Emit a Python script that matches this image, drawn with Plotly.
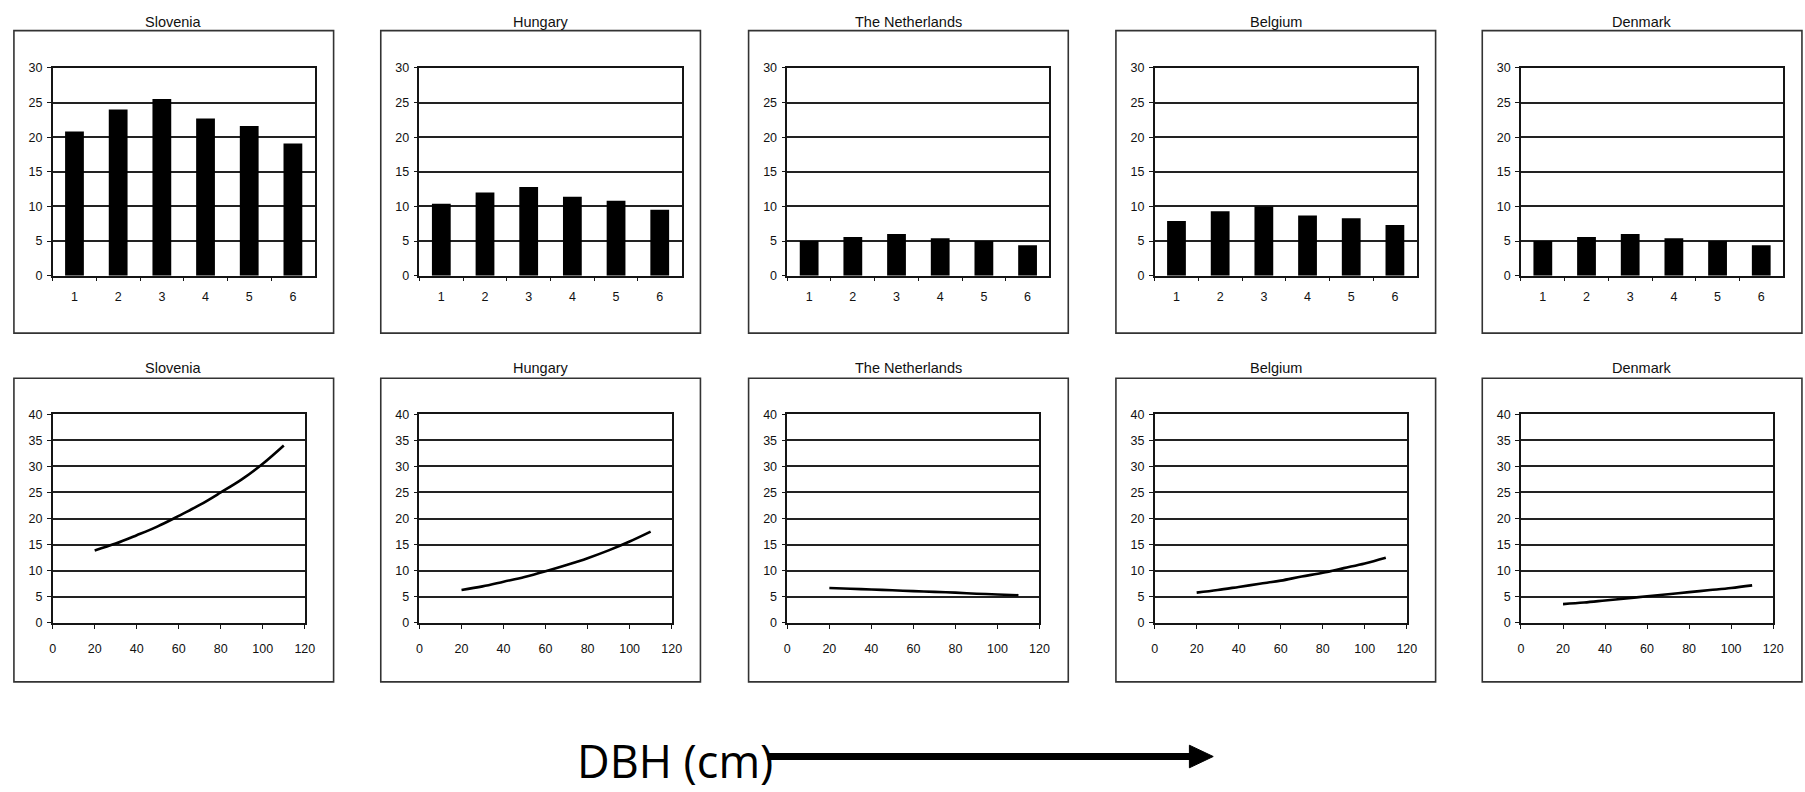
import plotly.graph_objects as go

W, H = 1805, 792

# ---------------- data ----------------
countries = ["Slovenia", "Hungary", "The Netherlands", "Belgium", "Denmark"]
size_classes = ["1", "2", "3", "4", "5", "6"]

bar_slovenia = [20.8, 24.0, 25.5, 22.7, 21.6, 19.1]
bar_hungary = [10.4, 12.0, 12.8, 11.4, 10.8, 9.5]
bar_netherlands = [5.0, 5.6, 6.0, 5.4, 5.0, 4.4]
bar_belgium = [7.9, 9.3, 10.0, 8.7, 8.3, 7.3]
bar_denmark = [5.0, 5.6, 6.0, 5.4, 5.0, 4.4]

dbh_cm = [20, 30, 40, 50, 60, 70, 80, 90, 100, 110]
line_slovenia = [13.9, 15.2, 16.8, 18.5, 20.5, 22.6, 25.0, 27.5, 30.5, 34.0]
line_hungary = [6.3, 7.0, 7.9, 8.8, 9.9, 11.1, 12.4, 13.9, 15.6, 17.5]
line_netherlands = [6.7, 6.55, 6.4, 6.25, 6.1, 5.95, 5.8, 5.6, 5.45, 5.3]
line_belgium = [5.8, 6.3, 6.9, 7.5, 8.1, 8.9, 9.6, 10.5, 11.4, 12.5]
line_denmark = [3.6, 3.9, 4.3, 4.7, 5.1, 5.5, 5.9, 6.3, 6.7, 7.2]

bar_yticks = [0, 5, 10, 15, 20, 25, 30]
line_yticks = [0, 5, 10, 15, 20, 25, 30, 35, 40]
line_xticks = [0, 20, 40, 60, 80, 100, 120]
axis_caption = "DBH (cm)"

bar_series = [bar_slovenia, bar_hungary, bar_netherlands, bar_belgium, bar_denmark]
line_series = [line_slovenia, line_hungary, line_netherlands, line_belgium, line_denmark]

# ---------------- geometry (pixels) ----------------
plot_left = [50, 419.5, 790, 1160, 1529]
frame_offset = 39
frame_w = 322
top_plot_w = 264
bot_plot_w = 254
rows = [
    dict(frame=(24, 332), plot=(62, 273.5), title=15, pw=top_plot_w),
    dict(frame=(378, 687), plot=(414.5, 627), title=367, pw=bot_plot_w),
]

FONT = "Liberation Sans, Arial, sans-serif"
INK = "#151515"


def fx(p):
    return p / W


def fy(p):
    return 1 - p / H


fig = go.Figure()
layout = dict(
    width=W, height=H, margin=dict(l=0, r=0, t=0, b=0),
    paper_bgcolor="white", plot_bgcolor="white",
    showlegend=False, bargap=0.57,
    shapes=[], annotations=[],
)

common = dict(
    showline=True, linecolor=INK, linewidth=1.5, mirror=True,
    ticks="outside", ticklen=4, tickcolor=INK, tickwidth=1.3,
    tickfont=dict(family=FONT, size=12.5, color="#111"),
    zeroline=False, fixedrange=True,
)

k = 0
for r, row in enumerate(rows):
    for i, name in enumerate(countries):
        k += 1
        xa = "xaxis" if k == 1 else f"xaxis{k}"
        ya = "yaxis" if k == 1 else f"yaxis{k}"
        xr = "x" if k == 1 else f"x{k}"
        yr = "y" if k == 1 else f"y{k}"
        left = plot_left[i]
        right = left + row["pw"]
        top, bottom = row["plot"]
        if r == 0:
            fig.add_trace(go.Bar(x=size_classes, y=bar_series[i], marker=dict(color="black", line=dict(width=0)),
                                 xaxis=xr, yaxis=yr, hoverinfo="skip"))
            layout[xa] = dict(common, domain=[fx(left), fx(right)], anchor=yr, type="category",
                              tickson="boundaries", showgrid=False, ticklabelstandoff=9)
            layout[ya] = dict(common, domain=[fy(bottom), fy(top)], anchor=xr, range=[0, 30],
                              tickvals=bar_yticks, showgrid=True, gridcolor="#222", gridwidth=1.6,
                              ticklabelstandoff=2)
        else:
            fig.add_trace(go.Scatter(x=dbh_cm, y=line_series[i], mode="lines",
                                     line=dict(color="black", width=2.6, shape="spline"),
                                     xaxis=xr, yaxis=yr, hoverinfo="skip"))
            layout[xa] = dict(common, domain=[fx(left), fx(right)], anchor=yr, range=[0, 120],
                              tickvals=line_xticks, showgrid=False, ticklabelstandoff=9)
            layout[ya] = dict(common, domain=[fy(bottom), fy(top)], anchor=xr, range=[0, 40],
                              tickvals=line_yticks, showgrid=True, gridcolor="#222", gridwidth=1.6,
                              ticklabelstandoff=2)
        # outer frame
        f_l = left - frame_offset
        f_t, f_b = row["frame"]
        layout["shapes"].append(dict(type="rect", xref="paper", yref="paper",
                                     x0=fx(f_l), x1=fx(f_l + frame_w), y0=fy(f_b), y1=fy(f_t),
                                     line=dict(color="#333", width=1.6), layer="below"))
        layout["annotations"].append(dict(text=name, xref="paper", yref="paper",
                                          x=fx(f_l + frame_w / 2), y=fy(row["title"]),
                                          xanchor="center", yanchor="middle", showarrow=False,
                                          font=dict(family=FONT, size=14.5, color="#111")))

# DBH caption and arrow
layout["annotations"].append(dict(text=axis_caption, xref="paper", yref="paper",
                                  x=fx(576), y=fy(767), xanchor="left", yanchor="middle",
                                  showarrow=False,
                                  font=dict(family="Open Sans, Lato, sans-serif", size=45, color="black")))
layout["shapes"].append(dict(type="line", xref="paper", yref="paper",
                             x0=fx(770), x1=fx(1200), y0=fy(763), y1=fy(763),
                             line=dict(color="black", width=7)))
layout["shapes"].append(dict(type="path", xref="paper", yref="paper",
                             path=f"M {fx(1195)} {fy(751.5)} L {fx(1219)} {fy(763)} L {fx(1195)} {fy(774.5)} Z",
                             fillcolor="black", line=dict(color="black", width=1)))

fig.update_layout(**layout)
fig.write_html("out.html", config={"displayModeBar": False},
               post_script="document.body.style.margin='0';document.body.style.overflow='hidden';")
